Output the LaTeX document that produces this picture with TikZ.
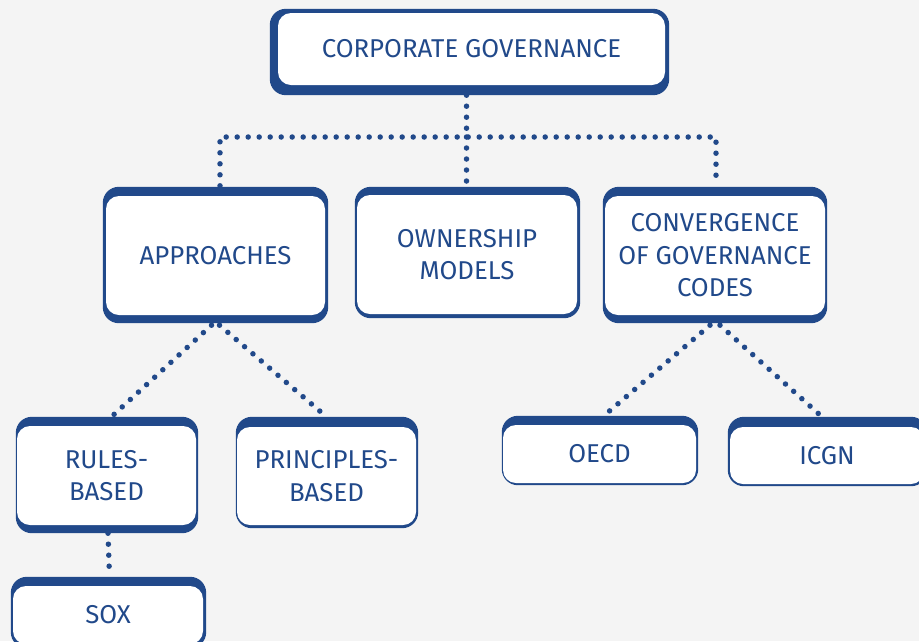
\documentclass[tikz,border=0pt]{standalone}
\usepackage{fontspec}
\setmainfont{Fira Sans}
\usetikzlibrary{backgrounds}
\definecolor{navy}{HTML}{21498A}
\definecolor{bgc}{HTML}{F4F4F4}
\tikzset{
  inner/.style={fill=white, rounded corners=13pt, inner sep=0pt, align=center,
    text=navy, font=\fontsize{25.8}{32.5}\selectfont},
  outer/.style={fill=navy, rounded corners=16pt},
  dots/.style={draw=navy, line width=5.5pt, line cap=round, dash pattern=on 0pt off 11pt}
}
\begin{document}
\begin{tikzpicture}[x=1pt,y=-1pt]
\useasboundingbox (0,0) rectangle (919,641);
% inner boxes (nodes)
\node[inner, minimum width=387pt, minimum height=72pt] (cg) at (471.5,49) {CORPORATE GOVERNANCE};
\node[inner, minimum width=219pt, minimum height=119pt] (app) at (215.5,255.5) {APPROACHES};
\node[inner, minimum width=220pt, minimum height=119pt] (own) at (467,254.5) {OWNERSHIP\\MODELS};
\node[inner, minimum width=220pt, minimum height=119pt] (conv) at (715,255.5) {CONVERGENCE\\OF GOVERNANCE\\CODES};
\node[inner, minimum width=179pt, minimum height=99pt] (rules) at (106.5,475.5) {RULES-\\BASED};
\node[inner, minimum width=179pt, minimum height=98pt] (prin) at (326.5,476) {PRINCIPLES-\\BASED};
\node[inner, minimum width=193pt, minimum height=58pt] (oecd) at (599.5,454) {OECD};
\node[inner, minimum width=194pt, minimum height=57pt] (icgn) at (827,455.5) {ICGN};
\node[inner, minimum width=190pt, minimum height=58pt] (sox) at (108,615) {SOX};
% outer blue frames
\begin{scope}[on background layer]
\fill[bgc] (0,0) rectangle (919,641);
\fill[outer] ([xshift=-8pt,yshift=4pt]cg.north west) rectangle ([xshift=4pt,yshift=-10pt]cg.south east);
\fill[outer] ([xshift=-3pt,yshift=9pt]app.north west) rectangle ([xshift=3pt,yshift=-8pt]app.south east);
\fill[outer] ([xshift=-2pt,yshift=8pt]own.north west) rectangle ([xshift=3pt,yshift=-4pt]own.south east);
\fill[outer] ([xshift=-2pt,yshift=9pt]conv.north west) rectangle ([xshift=2pt,yshift=-8pt]conv.south east);
\fill[outer] ([xshift=-1pt,yshift=9pt]rules.north west) rectangle ([xshift=2pt,yshift=-8pt]rules.south east);
\fill[outer] ([xshift=-1pt,yshift=10pt]prin.north west) rectangle ([xshift=2pt,yshift=-3pt]prin.south east);
\fill[outer] ([xshift=-1pt,yshift=9pt]oecd.north west) rectangle ([xshift=2pt,yshift=-2pt]oecd.south east);
\fill[outer] ([xshift=-2pt,yshift=10pt]icgn.north west) rectangle ([xshift=3pt,yshift=-2pt]icgn.south east);
\fill[outer] ([xshift=-2pt,yshift=9pt]sox.north west) rectangle ([xshift=3pt,yshift=-4pt]sox.south east);
\end{scope}
% connectors
\coordinate (hub) at (466.5,137);
\draw[dots] ([yshift=-10pt]cg.south -| hub) -- (hub);
\draw[dots] ([xshift=4.5pt,yshift=10pt]app.north) |- (hub) -| ([xshift=1pt,yshift=10pt]conv.north);
\draw[dots] (hub) -- ([yshift=9pt]own.north -| hub);
\draw[dots] ([xshift=-4pt,yshift=-10pt]app.south) -- ([xshift=6pt,yshift=10pt]rules.north);
\draw[dots] ([xshift=4pt,yshift=-10pt]app.south) -- ([yshift=10pt]prin.north);
\draw[dots] ([xshift=-5pt,yshift=-10pt]conv.south) -- ([xshift=5.5pt,yshift=10pt]oecd.north);
\draw[dots] ([xshift=5pt,yshift=-10pt]conv.south) -- ([xshift=-5pt,yshift=10pt]icgn.north);
\draw[dots] ([xshift=1.5pt,yshift=-8pt]rules.south) -- ([xshift=1.5pt,yshift=9pt]sox.north);
\end{tikzpicture}
\end{document}
